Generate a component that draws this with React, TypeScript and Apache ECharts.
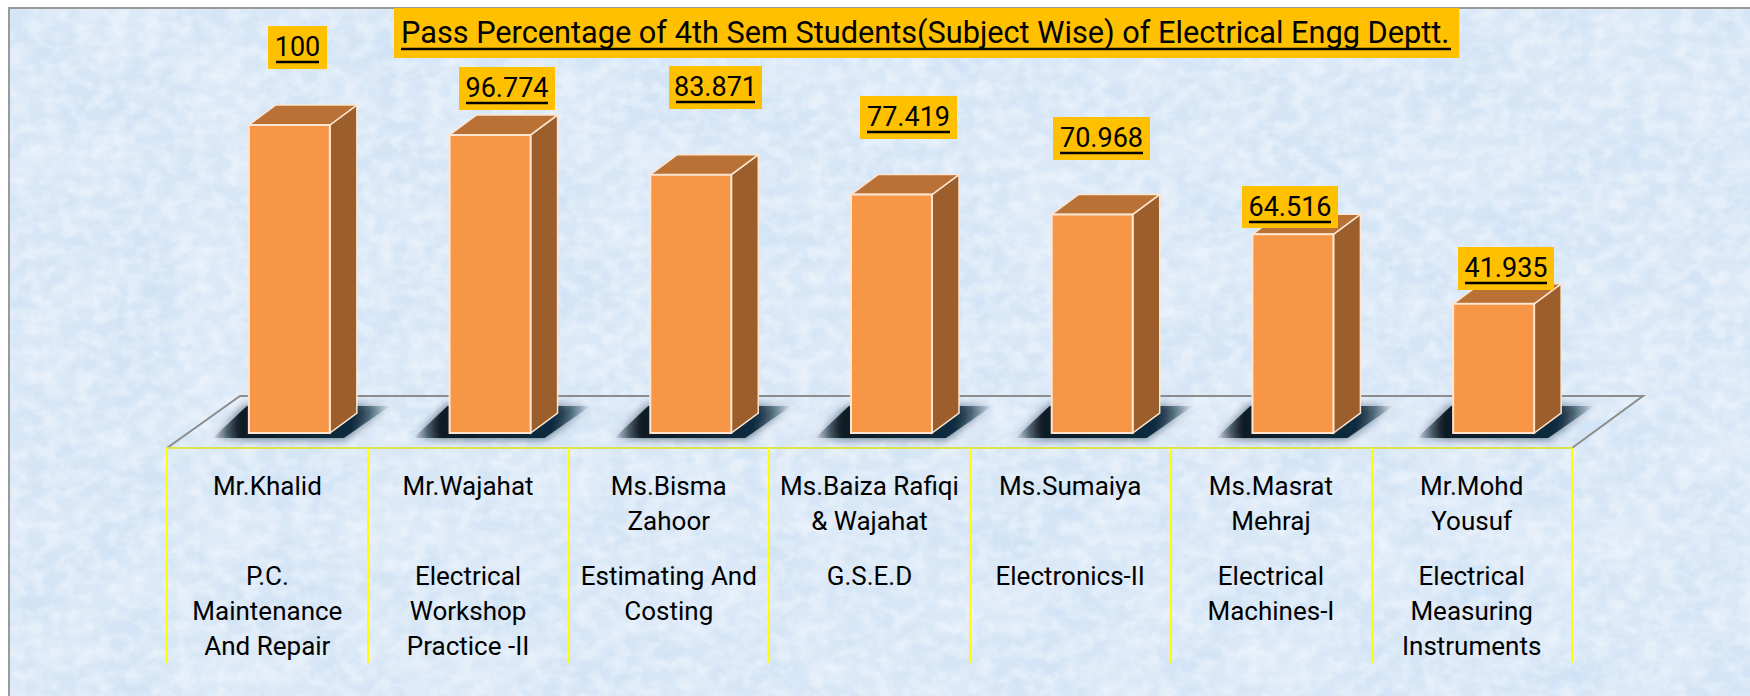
import React, { useEffect, useRef } from "react";
import * as echarts from "echarts";

const teachers = [
  ["Mr.Khalid"], ["Mr.Wajahat"], ["Ms.Bisma", "Zahoor"], ["Ms.Baiza Rafiqi", "& Wajahat"],
  ["Ms.Sumaiya"], ["Ms.Masrat", "Mehraj"], ["Mr.Mohd", "Yousuf"],
];
const subjects = [
  ["P.C.", "Maintenance", "And Repair"], ["Electrical", "Workshop", "Practice -II"], ["Estimating And", "Costing"],
  ["G.S.E.D"], ["Electronics-II"], ["Electrical", "Machines-I"], ["Electrical", "Measuring", "Instruments"],
];
const passPercent = [100, 96.774, 83.871, 77.419, 70.968, 64.516, 41.935];
const valueLabels = ["100", "96.774", "83.871", "77.419", "70.968", "64.516", "41.935"];
const titleText = "Pass Percentage of 4th Sem Students(Subject Wise) of Electrical Engg Deptt.";

// hand-placed label boxes: [left, top, width, height] in pixels, as in the original slide
const labelBoxes = [
  [268, 26, 59, 43], [459, 67, 96, 43], [669, 66, 93, 43], [860, 96, 97, 43],
  [1053, 117, 97, 43], [1242, 186, 96, 42], [1458, 247, 96, 43],
];
const FONT = "Roboto";
const BAR_SHIFT = 22, HALF = 40.5, DX = 27, DY = 20;

const texture =
  `url("data:image/svg+xml;utf8,` +
  encodeURIComponent(
    `<svg xmlns='http://www.w3.org/2000/svg' width='1750' height='696'>` +
      `<filter id='n' x='0' y='0' width='100%' height='100%' color-interpolation-filters='sRGB'><feTurbulence type='fractalNoise' baseFrequency='0.012 0.016' numOctaves='5' seed='11'/><feColorMatrix values='0 0 0 0 0.80  0 0 0 0 0.88  0 0 0 0 0.96  1 1 0 0 -0.7'/></filter>` +
      `<filter id='m' x='0' y='0' width='100%' height='100%' color-interpolation-filters='sRGB'><feTurbulence type='fractalNoise' baseFrequency='0.06 0.08' numOctaves='4' seed='3'/><feColorMatrix values='0 0 0 0 1  0 0 0 0 1  0 0 0 0 1  0 0 2.4 0 -0.85'/></filter>` +
      `<rect width='1750' height='696' fill='#dce9f7'/><rect width='1750' height='696' filter='url(#n)'/><rect width='1750' height='696' filter='url(#m)' opacity='0.4'/></svg>`
  ) +
  `")`;

function renderBar(params: any, api: any) {
  const i = params.dataIndex;
  const top = api.coord([i, api.value(1)]);
  const base = api.coord([i, 0]);
  const cx = top[0] + BAR_SHIFT;
  const l = cx - HALF, r = cx + HALF, t = top[1], b = base[1];
  const edge = "#FCE6D2";
  const box = labelBoxes[i];
  const tw = box[2] - (i === 0 ? 16 : 14);
  const tx = box[0] + box[2] / 2;
  const ty = box[1] + 21;
  return {
    type: "group",
    children: [
      {
        type: "polygon", z2: 1,
        shape: { points: [[l - 36, b + 5], [l - 2, b - 27], [r + 60, b - 27], [r + 14, b + 5]] },
        style: {
          fill: { type: "linear", x: 0, y: 0, x2: 1, y2: 0, colorStops: [
            { offset: 0, color: "rgba(5,15,22,0)" }, { offset: 0.16, color: "#0a1a24" },
            { offset: 0.78, color: "#0b2c40" }, { offset: 1, color: "rgba(10,35,50,0)" } ] },
          shadowBlur: 10, shadowColor: "rgba(10,30,45,0.7)",
        },
      },
      { type: "polygon", z2: 2, shape: { points: [[r, t], [r + DX, t - DY], [r + DX, b - DY], [r, b]] },
        style: { fill: "#9C5F2C", stroke: edge, lineWidth: 1.5 } },
      { type: "polygon", z2: 2, shape: { points: [[l, t], [l + DX, t - DY], [r + DX, t - DY], [r, t]] },
        style: { fill: "#BA7136", stroke: edge, lineWidth: 1.5 } },
      { type: "rect", z2: 3, shape: { x: l, y: t, width: r - l, height: b - t },
        style: { fill: "#F79646", stroke: edge, lineWidth: 2 } },
      { type: "rect", z2: 4, shape: { x: box[0], y: box[1], width: box[2], height: box[3] }, style: { fill: "#FFC000" } },
      { type: "text", z2: 5, style: { text: valueLabels[i], x: tx, y: ty, align: "center", verticalAlign: "middle",
          fontFamily: FONT, fontSize: 27, fill: "#000" } },
      { type: "line", z2: 5, shape: { x1: tx - tw / 2, y1: ty + 15, x2: tx + tw / 2, y2: ty + 15 },
        style: { stroke: "#000", lineWidth: 2.4 } },
    ],
  };
}

function axisText(_: string, i: number) {
  const t = teachers[i], s = subjects[i];
  const row = (x?: string) => `{a|${x ?? " "}}`;
  return [row(t[0]), row(t[1]), "{g| }", row(s[0]), row(s[1]), row(s[2])].join("\n");
}

export default function App() {
  const ref = useRef<HTMLDivElement>(null);
  useEffect(() => {
    document.body.style.margin = "0";
    document.body.style.background = "#fff";
    const chart = echarts.init(ref.current!, null, { renderer: "svg" });
    chart.setOption({
      animation: false,
      backgroundColor: "transparent",
      grid: { left: 167, right: 178, top: 125, bottom: 263 },
      title: {
        text: titleText, left: 394, top: 8, padding: [9, 10, 10, 7], backgroundColor: "#FFC000",
        textStyle: { fontFamily: FONT, fontSize: 30.7, fontWeight: "normal", color: "#000" },
      },
      graphic: [
        { type: "polyline", z: 0, shape: { points: [[167, 448], [240, 396], [1643, 396], [1572, 448]] },
          style: { fill: "none", stroke: "#8C8C8C", lineWidth: 2 } },
        { type: "line", z: 20, shape: { x1: 401, y1: 49, x2: 1451, y2: 49 }, style: { stroke: "#000", lineWidth: 2.4 } },
      ],
      xAxis: {
        type: "category", data: teachers.map((t) => t.join(" ")), offset: 15,
        axisLine: { onZero: false, lineStyle: { color: "#DDE34A", width: 2 } },
        axisTick: { show: true, length: 215, lineStyle: { color: "#FFFF00", width: 2 } },
        axisLabel: {
          interval: 0, margin: 20, formatter: axisText, color: "#000",
          rich: {
            a: { fontFamily: FONT, fontSize: 26, lineHeight: 35, color: "#000" },
            g: { fontSize: 10, lineHeight: 20 },
          },
        },
      },
      yAxis: { type: "value", min: 0, max: 100, show: false },
      series: [{ type: "custom", data: passPercent.map((v, i) => [i, v]), renderItem: renderBar, clip: false, encode: { x: 0, y: 1 } }],
    });
    return () => chart.dispose();
  }, []);
  return (
    <div style={{ position: "absolute", left: 0, top: 0, width: 1750, height: 696, background: "#fff" }}>
      <div style={{ position: "absolute", left: 8, top: 7, right: 0, bottom: 0, borderLeft: "2px solid #9a9a9a", borderTop: "2px solid #9a9a9a", backgroundImage: texture }} />
      <div ref={ref} style={{ position: "absolute", left: 0, top: 0, width: 1750, height: 696 }} />
    </div>
  );
}
